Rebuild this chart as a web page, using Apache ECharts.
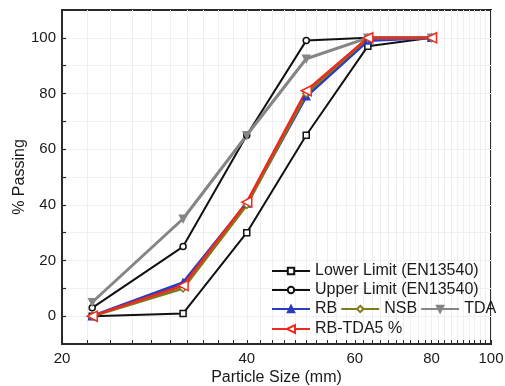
<!DOCTYPE html>
<html><head><meta charset="utf-8">
<script src="https://cdn.jsdelivr.net/npm/echarts@6/dist/echarts.min.js"></script>
<style>html,body{margin:0;padding:0;background:#fff}#c{width:505px;height:386px}</style>
</head><body><div id="c"></div>
<script>
// Sieve sizes (mm) and % passing
const sizes = [22.4, 31.5, 40, 50, 63, 80];
const lowerLimit = [0, 1, 30, 65, 97, 100];
const upperLimit = [3, 25, 65, 99, 100, 100];
const rb = [0, 12, 40.5, 79, 99, 100];
const nsb = [0, 10, 40, 80, 100, 100];
const tda = [5, 35, 65, 92.5, 100, 100];
const rbTda5 = [0, 11, 41, 81, 100, 100];

const xTickLabels = [20, 40, 60, 80, 100];
const xMinorTicks = [22, 24, 26, 28, 30, 32, 34, 36, 38, 42, 44, 46, 48, 50, 52, 54, 56, 58,
  62, 64, 66, 68, 70, 72, 74, 76, 78, 82, 84, 86, 88, 90, 92, 94, 96, 98];
const yTickLabels = [0, 20, 40, 60, 80, 100];
const yMinorTicks = [10, 30, 50, 70, 90];

const FONT = 'Liberation Sans, Arial, sans-serif';
const AX = '#2a2a2a';
const GRIDC = '#efefef';

function pairs(vals) { return sizes.map((x, i) => [x, vals[i]]); }
function mk(name, vals, color, symbol, size, fill, width, rot) {
  return {
    name: name, type: 'line', xAxisIndex: 0, yAxisIndex: 0,
    data: pairs(vals), symbol: symbol, symbolSize: size, symbolRotate: rot || 0,
    showSymbol: true, showAllSymbol: true,
    lineStyle: { color: color, width: width },
    itemStyle: { color: fill, borderColor: color, borderWidth: 1.5 },
    emphasis: { disabled: true }, z: 3
  };
}

const chart = echarts.init(document.getElementById('c'), null, { renderer: 'canvas' });
const legendCommon = {
  padding: 0, itemWidth: 38, itemHeight: 8, selectedMode: false,
  textStyle: { fontSize: 16, fontFamily: FONT, color: '#1a1a1a' }
};
chart.setOption({
  animation: false,
  backgroundColor: '#fff',
  grid: { left: 62, right: 14, top: 10, bottom: 42, show: true, borderColor: AX, borderWidth: 2,
    containLabel: false, outerBoundsMode: 'none' },
  legend: [
    Object.assign({}, legendCommon, { data: ['Lower Limit (EN13540)'], left: 271, top: 263 }),
    Object.assign({}, legendCommon, { data: ['Upper Limit (EN13540)'], left: 271, top: 282 }),
    Object.assign({}, legendCommon, { data: ['RB', 'NSB', 'TDA'], left: 271, top: 301, itemGap: 3 }),
    Object.assign({}, legendCommon, { data: ['RB-TDA5 %'], left: 271, top: 321, itemHeight: 10 })
  ],
  xAxis: {
    type: 'log', min: 20, max: 100, position: 'bottom',
    name: 'Particle Size (mm)', nameLocation: 'middle', nameGap: 26, nameMoveOverlap: false,
    nameTextStyle: { fontSize: 16, fontFamily: FONT, color: '#1a1a1a' },
    axisLine: { show: true, onZero: false, lineStyle: { color: AX, width: 2 } },
    axisTick: { show: true, inside: true, length: 4, customValues: xMinorTicks.concat(xTickLabels), lineStyle: { color: AX, width: 1 } },
    axisLabel: { show: true, customValues: xTickLabels, margin: 7, fontSize: 15, fontFamily: FONT, color: '#1a1a1a' },
    splitLine: { show: true, lineStyle: { color: GRIDC, width: 1 } }
  },
  yAxis: {
    type: 'value', min: -10, max: 110,
    name: '% Passing', nameLocation: 'middle', nameGap: 34, nameMoveOverlap: false,
    nameTextStyle: { fontSize: 16, fontFamily: FONT, color: '#1a1a1a' },
    axisLine: { show: true, onZero: false, lineStyle: { color: AX, width: 2 } },
    axisTick: { show: true, inside: true, length: 4, customValues: yMinorTicks.concat(yTickLabels), lineStyle: { color: AX, width: 1.2 } },
    axisLabel: { show: true, customValues: yTickLabels, margin: 6, fontSize: 15, fontFamily: FONT, color: '#1a1a1a' },
    splitLine: { show: true, lineStyle: { color: GRIDC, width: 1 } }
  },
  series: [
    mk('Lower Limit (EN13540)', lowerLimit, '#111111', 'rect', 6, '#ffffff', 2),
    mk('Upper Limit (EN13540)', upperLimit, '#111111', 'circle', 6, '#ffffff', 2),
    mk('RB', rb, '#2a3cc0', 'triangle', 7, '#2a3cc0', 3),
    mk('NSB', nsb, '#7d7d1e', 'diamond', 7, '#ffffff', 3),
    mk('TDA', tda, '#858585', 'triangle', 7, '#858585', 3, 180),
    mk('RB-TDA5 %', rbTda5, '#ee2a1e', 'triangle', 10, '#ffffff', 2.5, 90)
  ]
});
</script></body></html>
